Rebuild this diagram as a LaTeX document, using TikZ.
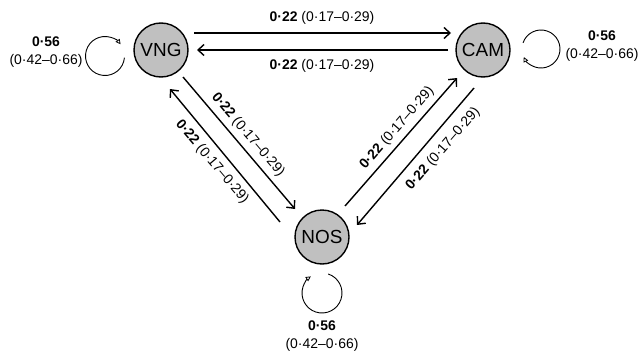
\documentclass[tikz,border=0pt]{standalone}
\usepackage{fontspec}
\setmainfont{Liberation Sans}
\usetikzlibrary{arrows.meta,calc}
\definecolor{nodegray}{RGB}{192,192,192}
\tikzset{
  state/.style={circle, draw=black, line width=1.4bp, fill=nodegray, minimum size=54bp, inner sep=0pt, font=\fontsize{19}{21}\selectfont},
  arr/.style={line width=1.4bp, -{Straight Barb[length=6bp,width=11bp,line width=1.4bp]}},
  loopline/.style={line width=0.9bp, -{Triangle[open,length=5bp,width=5bp,line width=0.8bp]}},
  lbl/.style={font=\fontsize{14}{17}\selectfont, inner sep=0pt},
  looplbl/.style={font=\fontsize{14}{18}\selectfont, align=center, inner sep=0pt}
}
\begin{document}
\begin{tikzpicture}[x=1bp,y=1bp]
\useasboundingbox (0,0) rectangle (642,356);
\node[state] (vng) at (161,306) {VNG};
\node[state] (cam) at (483,306) {CAM};
\node[state] (nos) at (322,119) {NOS};
% horizontal arrows
\draw[arr] ($(vng.center)+(33,17)$) -- ($(cam.center)+(-32,17)$);
\draw[arr] ($(cam.center)+(-35,0)$) -- ($(vng.center)+(36,0)$);
% diagonals
\draw[arr] ($(vng.center)+(22,-27)$) -- ($(nos.center)+(-27,28)$);
\draw[arr] ($(nos.center)+(-42,15)$) -- ($(vng.center)+(9,-39)$);
\draw[arr] ($(nos.center)+(23,31)$) -- ($(cam.center)+(-26,-28)$);
\draw[arr] ($(cam.center)+(-9,-38)$) -- ($(nos.center)+(35,12)$);
% labels
\node[lbl] (l1) at (322,338) {\textbf{0·22} (0·17–0·29)};
\node[lbl] (l2) at (322,290) {\textbf{0·22} (0·17–0·29)};
\node[lbl, rotate=-49.7] (l3) at (248,221) {\textbf{0·22} (0·17–0·29)};
\node[lbl, rotate=-49.7] (l4) at (212,194) {\textbf{0·22} (0·17–0·29)};
\node[lbl, rotate=49] (l5) at (397,228) {\textbf{0·22} (0·17–0·29)};
\node[lbl, rotate=49] (l6) at (443,207) {\textbf{0·22} (0·17–0·29)};
% self loops
\coordinate (cv) at (105,300);
\coordinate (cc) at (541,307);
\coordinate (cn) at (322,63);
\draw[loopline] ($(cv)+(-5:19.5)$) arc[start angle=-5, end angle=-323, radius=19.5];
\draw[loopline] ($(cc)+(161:19)$) arc[start angle=161, end angle=-155, radius=19];
\draw[loopline] ($(cn)+(72:20)$) arc[start angle=72, end angle=-236, radius=20];
\node[looplbl] (s1) at (46,304) {\textbf{0·56}\\(0·42–0·66)};
\node[looplbl] (s2) at (602,309.5) {\textbf{0·56}\\(0·42–0·66)};
\node[looplbl] (s3) at (322,20) {\textbf{0·56}\\(0·42–0·66)};
\end{tikzpicture}
\end{document}
